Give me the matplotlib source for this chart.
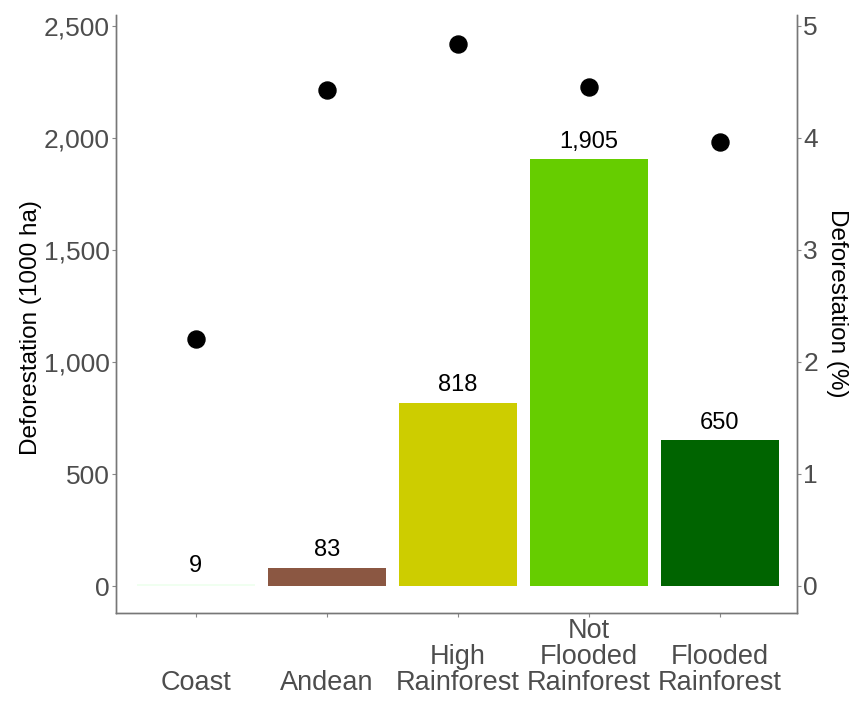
import matplotlib
matplotlib.use("Agg")
import matplotlib.pyplot as plt

plt.rcParams['font.family'] = ['Liberation Sans', 'DejaVu Sans']

categories = ["Coast", "Andean", "High\nRainforest", "Not\nFlooded\nRainforest", "Flooded\nRainforest"]
deforestation_kha = [9, 83, 818, 1905, 650]
deforestation_pct = [2.20, 4.43, 4.84, 4.45, 3.96]
bar_colors = ["#F0FFF0", "#8B5742", "#CDCD00", "#66CD00", "#006400"]
left_ticks = [0, 500, 1000, 1500, 2000, 2500]
right_ticks = [0, 1, 2, 3, 4, 5]

fig = plt.figure(figsize=(8.57, 7.02), dpi=100)
ax = fig.add_axes([0.1354, 0.1268, 0.7946, 0.8518])
x = list(range(len(categories)))
ax.bar(x, deforestation_kha, width=0.9, color=bar_colors, zorder=2)
for xi, v in zip(x, deforestation_kha):
    ax.text(xi, v + 30, f"{v:,}", ha='center', va='bottom', fontsize=17, color='black')

ax.set_xlim(-0.61, 4.59)
ax.set_ylim(-120, 2549)
ax.set_yticks(left_ticks)
ax.set_yticklabels([f"{t:,}" for t in left_ticks])
ax.set_xticks(x)
ax.set_xticklabels(categories)
for lab in ax.get_xticklabels():
    lab.set_va('bottom')
    lab.set_linespacing(1.0)
ax.tick_params(axis='x', length=3, width=0.8, color='#888888', pad=57, labelsize=19.5, labelcolor='#4D4D4D')
ax.tick_params(axis='y', length=3, width=0.8, color='#888888', pad=1.5, labelsize=19, labelcolor='#4D4D4D')
ax.set_ylabel("Deforestation (1000 ha)", fontsize=17.5, color='black')
ax.yaxis.set_label_coords(-0.108, 0.478)

ax2 = ax.twinx()
ax2.scatter(x, deforestation_pct, s=150, color='black', zorder=3)
ax2.set_ylim(-0.241, 5.096)
ax2.set_yticks(right_ticks)
ax2.tick_params(axis='y', length=3, width=0.8, color='#888888', pad=1.5, labelsize=19, labelcolor='#4D4D4D')
ax2.set_ylabel("Deforestation (%)", fontsize=17.5, color='black', rotation=270, va='center')
ax2.yaxis.set_label_coords(1.058, 0.518)

for a in (ax, ax2):
    a.spines['top'].set_visible(False)
    for s in ('left', 'right', 'bottom'):
        a.spines[s].set_color('#777777')
        a.spines[s].set_linewidth(1.0)

fig.savefig("out.png", dpi=100, facecolor='white')
